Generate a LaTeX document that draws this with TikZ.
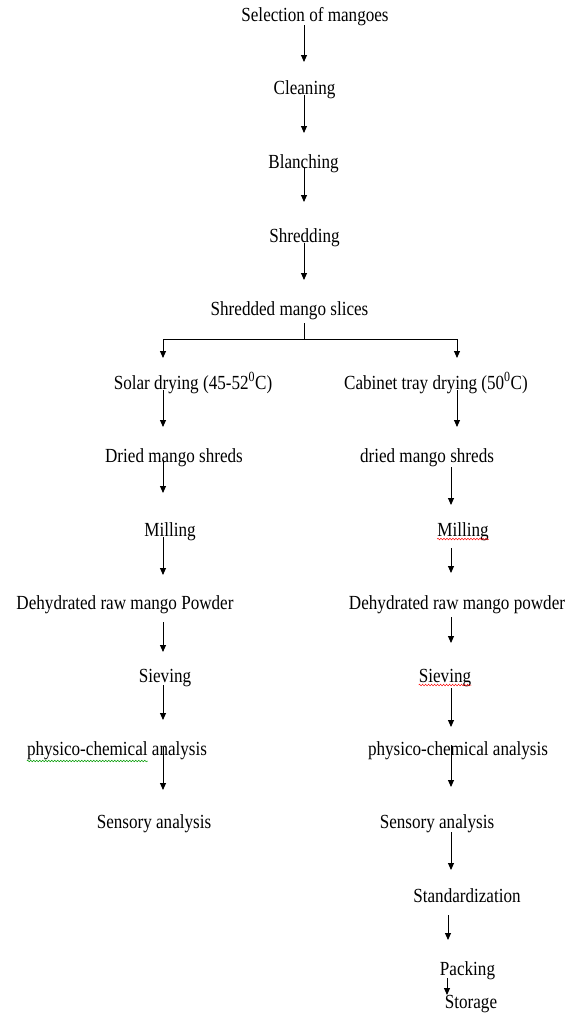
\documentclass[tikz,border=0pt]{standalone}
\usepackage{fontspec}
\setmainfont{Liberation Serif}[FakeStretch=0.855]
\usetikzlibrary{arrows.meta,calc,decorations.pathmorphing}
\newcommand\flowarrow[5]{\draw[arr] ($(#1.base -| #3)+(0,#4)$) -- ($(#2.base -| #3)+(0,#5)$);}
\begin{document}
\begin{tikzpicture}[x=1pt,y=1pt,
  lbl/.style={inner sep=0pt, anchor=base, font=\fontsize{20}{24}\selectfont},
  arr/.style={line width=0.9pt, -{Triangle[length=7pt,width=6pt]}},
  conn/.style={line width=0.9pt},
  spellred/.style={draw=red, line width=0.5pt, decorate, decoration={snake, amplitude=0.8pt, segment length=3pt}},
  spellgreen/.style={draw=green!60!black, line width=0.5pt, decorate, decoration={snake, amplitude=0.8pt, segment length=3pt}}]
\useasboundingbox (0,0) rectangle (571,-1017);
% column positions
\coordinate (M) at (304,0);
\coordinate (L) at (163,0);
\coordinate (R) at (457,0);
\coordinate (R2) at (451,0);
\coordinate (R3) at (448,0);
\coordinate (R4) at (447,0);
% main column
\node[lbl] (sel) at (315,-21) {Selection of mangoes};
\node[lbl] (cle) at (304.5,-94) {Cleaning};
\node[lbl] (bla) at (303.5,-168) {Blanching};
\node[lbl] (shr) at (304.5,-242) {Shredding};
\node[lbl] (sli) at (289.5,-315) {Shredded mango slices};
% left branch
\node[lbl] (sol) at (193,-389) {Solar drying (45-52\textsuperscript{0}C)};
\node[lbl] (dri) at (174,-462) {Dried mango shreds};
\node[lbl] (mil) at (170,-536) {Milling};
\node[lbl] (deh) at (125,-609) {Dehydrated raw mango Powder};
\node[lbl] (sie) at (165,-682) {Sieving};
\node[lbl] (phy) at (117,-755) {physico-chemical analysis};
\node[lbl] (sen) at (154,-828) {Sensory analysis};
% right branch
\node[lbl] (cab) at (436,-389) {Cabinet tray drying (50\textsuperscript{0}C)};
\node[lbl] (dri2) at (427,-462) {dried mango shreds};
\node[lbl] (mil2) at (463,-536) {Milling};
\node[lbl] (deh2) at (457,-609) {Dehydrated raw mango powder};
\node[lbl] (sie2) at (445,-682) {Sieving};
\node[lbl] (phy2) at (458,-755) {physico-chemical analysis};
\node[lbl] (sen2) at (437,-828) {Sensory analysis};
\node[lbl] (std) at (467,-902) {Standardization};
\node[lbl] (pac) at (467.5,-975) {Packing};
\node[lbl] (sto) at (471,-1008) {Storage};
% main arrows
\flowarrow{sel}{cle}{M}{-4}{32}
\flowarrow{cle}{bla}{M}{-1}{35}
\flowarrow{bla}{shr}{M}{0}{40}
\flowarrow{shr}{sli}{M}{-1}{35}
% split
\coordinate (bar) at ($(sli.base -| M)+(0,-24)$);
\draw[conn] ($(sli.base -| M)+(0,-8)$) -- (bar);
\draw[conn] (bar -| L) -- (bar -| R);
\draw[arr] (bar -| L) -- ($(sol.base -| L)+(0,31)$);
\draw[arr] (bar -| R) -- ($(cab.base -| R)+(0,31)$);
% left arrows
\flowarrow{sol}{dri}{L}{-1}{35}
\flowarrow{dri}{mil}{L}{2}{43}
\flowarrow{mil}{deh}{L}{-1}{34}
\flowarrow{deh}{sie}{L}{-13}{30}
\flowarrow{sie}{phy}{L}{-3}{35}
\flowarrow{phy}{sen}{L}{8}{38}
% right arrows
\flowarrow{cab}{dri2}{R}{-1}{35}
\flowarrow{dri2}{mil2}{R2}{-5}{31}
\flowarrow{mil2}{deh2}{R2}{-12}{36}
\flowarrow{deh2}{sie2}{R2}{-8}{39}
\flowarrow{sie2}{phy2}{R2}{-6}{28}
\flowarrow{phy2}{sen2}{R2}{10}{41}
\flowarrow{sen2}{std}{R2}{-4}{32}
\flowarrow{std}{pac}{R3}{-13}{35}
\flowarrow{pac}{sto}{R4}{-3}{13}
% spell-check underlines
\draw[spellred] ($(mil2.base west)+(0,-3)$) -- ($(mil2.base east)+(0,-3)$);
\draw[spellred] ($(sie2.base west)+(0,-3)$) -- ($(sie2.base east)+(0,-3)$);
\draw[spellgreen] ($(phy.base west)+(0,-6)$) -- ++(121,0);
\end{tikzpicture}
\end{document}
